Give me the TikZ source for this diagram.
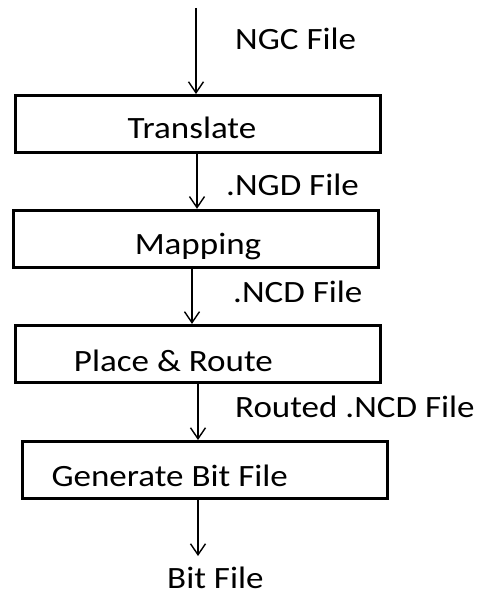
\documentclass[tikz,border=0pt]{standalone}
\usepackage{fontspec}
\setmainfont{Carlito}[FakeStretch=1.13]
\usetikzlibrary{arrows.meta}

\tikzset{
  stage/.style={draw, line width=3pt, minimum width=365pt, minimum height=57pt,
    inner sep=0pt},
  flow/.style={line width=1.4pt, -{Straight Barb[length=11pt,width=15pt,line width=1.4pt]}},
  tag/.style={anchor=base west, inner sep=0pt},
}

\begin{document}
\begin{tikzpicture}[x=1pt,y=1pt]
  \fontsize{31}{37}\selectfont
  \useasboundingbox (0,0) rectangle (477,-594);

  %% stages
  \node[stage, label={[anchor=base, inner sep=0pt, xshift=-5.5pt, yshift=-4.3pt]center:Translate}]
    (trans) at (197.5,-124) {};
  \node[stage, label={[anchor=base, inner sep=0pt, xshift=2pt, yshift=-7.2pt]center:Mapping}]
    (map) at (196,-238.8) {};
  \node[stage, label={[anchor=base, inner sep=0pt, xshift=-25pt, yshift=-6.8pt]center:Place \& Route}]
    (par) at (198.4,-353.9) {};
  \node[stage, label={[anchor=base, inner sep=0pt, xshift=-35pt, yshift=-5.7pt]center:Generate Bit File}]
    (bitgen) at (204.7,-470) {};

  %% free ends
  \coordinate (in) at (196,-8);
  \coordinate (out) at (198,-556);

  %% flow
  \draw[flow] (in) -- (in |- trans.north);
  \draw[flow] (trans.south -| 197,0) -- (map.north -| 197,0);
  \draw[flow] (map.south -| 192,0) -- (par.north -| 192,0);
  \draw[flow] (par.south -| 198,0) -- (bitgen.north -| 198,0);
  \draw[flow] (bitgen.south -| 198,0) -- (out);

  %% file names
  \node[tag] (ngc) at (235,-50) {NGC File};
  \node[tag] (ngd) at (226,-195) {.NGD File};
  \node[tag] (ncd) at (233,-302) {.NCD File};
  \node[tag] (routed) at (235,-417.7) {Routed .NCD File};
  \node[tag] (bit) at (167,-588.5) {Bit File};

\end{tikzpicture}
\end{document}
